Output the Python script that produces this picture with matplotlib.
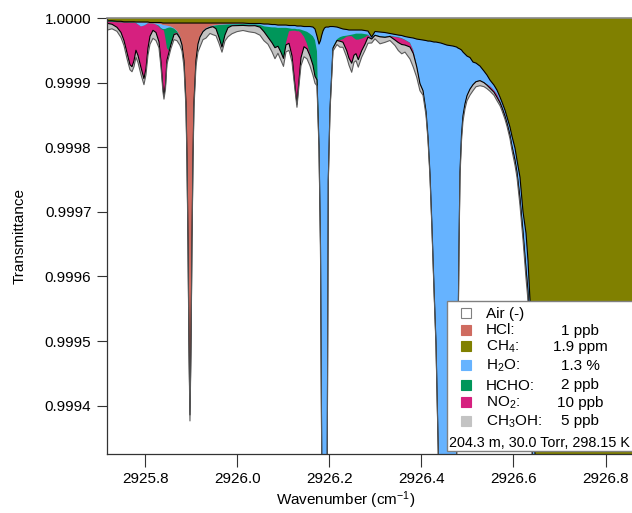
import numpy as np
import matplotlib
matplotlib.use('Agg')
import matplotlib.pyplot as plt
from matplotlib.patches import Rectangle

plt.rcParams['font.family'] = ['Liberation Sans', 'DejaVu Sans']
plt.rcParams['mathtext.default'] = 'regular'

# wavenumber grid (cm-1), denser around the sharp lines
wavenumber = [
    2925.7157, 2925.7272, 2925.7380, 2925.7467, 2925.7533, 2925.7598, 2925.7663, 2925.7707, 2925.7750, 2925.7793,
    2925.7837, 2925.7902, 2925.7967, 2925.8011, 2925.8054, 2925.8098, 2925.8163, 2925.8228, 2925.8293, 2925.8337,
    2925.8380, 2925.8402, 2925.8435, 2925.8467, 2925.8511, 2925.8554, 2925.8620, 2925.8685, 2925.8750, 2925.8793, 2925.8837,
    2925.8880, 2925.8902, 2925.8924, 2925.8946, 2925.8967, 2925.8989, 2925.9011, 2925.9033, 2925.9054,
    2925.9098, 2925.9141, 2925.9185, 2925.9250, 2925.9315, 2925.9402, 2925.9467, 2925.9533, 2925.9598, 2925.9663,
    2925.9728, 2925.9793, 2925.9880, 2925.9989, 2926.0120, 2926.0250, 2926.0380, 2926.0489,
    2926.0576, 2926.0663, 2926.0750, 2926.0815, 2926.0880, 2926.0946, 2926.1000, 2926.1054, 2926.1120, 2926.1185,
    2926.1250, 2926.1293, 2926.1337, 2926.1380, 2926.1446, 2926.1511, 2926.1576, 2926.1641, 2926.1685, 2926.1728,
    2926.1772, 2926.1804, 2926.1830, 2926.1859, 2926.1891, 2926.1924, 2926.1952, 2926.1974, 2926.2011, 2926.2076, 2926.2163,
    2926.2228, 2926.2293, 2926.2374, 2926.2424, 2926.2483, 2926.2533, 2926.2576, 2926.2626, 2926.2700, 2926.2772,
    2926.2837, 2926.2917, 2926.2989, 2926.3098, 2926.3207, 2926.3315, 2926.3424, 2926.3496, 2926.3570, 2926.3641,
    2926.3750, 2926.3822, 2926.3896, 2926.3967,
    2926.4033, 2926.4098, 2926.4141, 2926.4185, 2926.4228, 2926.4272, 2926.4315, 2926.4365, 2926.4424, 2926.4554,
    2926.4685, 2926.4765, 2926.4793, 2926.4815, 2926.4837,
    2926.4870, 2926.4902, 2926.4946, 2926.4989, 2926.5054, 2926.5120, 2926.5185, 2926.5272, 2926.5359, 2926.5424,
    2926.5489, 2926.5576, 2926.5641, 2926.5707, 2926.5750, 2926.5815, 2926.5859, 2926.5924, 2926.5967, 2926.6033,
    2926.6076, 2926.6141, 2926.6207, 2926.6272, 2926.6315, 2926.6359, 2926.6402, 2926.6467, 2926.6576, 2926.7011,
    2926.7880, 2926.8750,
]

# absorption of each gas, in units of 1e-6 (1 - transmittance)
ch4 = [
    4.3, 4.3, 5.1, 5.1, 5.9, 5.9, 5.9, 5.9, 5.9, 6.2, 6.2, 6.2, 6.2, 6.2, 6.2, 7.0, 7.0, 7.0, 7.0, 7.0,
    7.8, 7.8, 7.8, 7.8, 7.8, 7.8, 7.8, 7.8, 7.8, 7.8, 7.8,
    7.8, 7.8, 7.8, 7.8, 7.8, 7.8, 7.8, 7.8, 7.8,
    7.8, 7.8, 7.8, 7.8, 7.8, 7.8, 7.8, 7.8, 7.8, 7.8, 7.8, 7.8, 7.8, 7.8, 7.8, 8.5, 8.5, 8.5,
    9.3, 9.3, 10.1, 10.1, 10.9, 10.9, 10.9, 10.9, 11.6, 11.6, 11.6, 12.4, 12.4, 12.4, 13.2, 13.2, 13.2, 14.0, 17.0, 27.9,
    40.3, 35.0, 27.0, 20.0, 15.5, 14.0, 14.0, 14.0, 13.2, 13.2, 14.0,
    15.5, 17.0, 17.8, 18.6, 18.6, 18.6, 18.6, 18.6, 18.6, 19.4, 20.2, 29.5, 20.9, 21.7, 22.5, 24.0, 25.6, 26.4, 27.1, 28.7,
    30.2, 31.0, 32.6, 33.3,
    34.1, 34.9, 35.7, 35.7, 36.4, 37.2, 37.2, 38.0, 38.8, 41.9, 43.4, 45.0, 46.5, 47.3, 48.0,
    49.6, 52.7, 55.8, 58.9, 61.2, 68.2, 69.8, 74.4, 82.2, 88.4, 96.1, 103.9, 111.6, 122.5, 130.2, 142.6, 153.5, 169.0,
    183.0, 201.5, 220.0, 246.5, 300.0, 333.0, 375.0, 437.0, 561.0, 674.0, 1085.0, 3100.0, 4650.0, 4650.0,
]
hcl = [
    0, 0, 0, 0.2, 0.3, 0.3, 0.5, 0.5, 0.5, 0.5, 0.6, 0.6, 0.8, 0.8, 0.9, 1.1, 1.2, 1.5, 1.9, 2.3,
    3.1, 3.1, 3.6, 4.0, 4.7, 5.4, 7.8, 11.8, 20.2, 31.0, 55.8,
    121, 205, 333, 499, 605, 499, 333, 205, 121,
    55.8, 31.0, 20.2, 11.8, 7.8, 5.0, 3.9, 3.1, 2.5, 2.2, 1.9, 1.6, 1.4, 1.2, 0.9, 0.8, 0.6, 0.6,
    0.5, 0.5, 0.5, 0.5, 0.5, 0.4, 0.4, 0.4, 0.4, 0.4, 0.3, 0.3, 0.3, 0.3, 0.3, 0.3, 0.3, 0.3, 0.3, 0.3,
] + [0.3] * 11 + [0.2] * 24 + [0.1] * 15 + [0.1] * 32
h2o = [
    0, 0, 0, 0, 0, 0, 0, 0, 0, 0.8, 3.1, 6.2, 4.7, 3.1, 0.8, 0, 0, 1.5, 3.1, 6.2,
    6.2, 6.2, 5.4, 3.9, 2.3, 1.5, 0.8, 0.8, 0.5, 0.5, 0,
    0, 0, 0, 0, 0, 0, 0, 0, 0,
    0.5, 0.5, 0.5, 0.5, 0.5, 0.5, 0.5, 0.5, 0.5, 0.5, 0.5, 0.5, 0.8, 0.8, 0.8, 0.8, 0.8, 1.5,
    3.1, 3.9, 3.9, 3.9, 3.9, 3.9, 3.9, 3.9, 3.9, 4.7, 4.7, 4.7, 4.7, 5.4, 6.2, 7.8, 10.9, 14.0, 17.0, 23.3,
    147, 310, 636, 1705, 4650, 1705, 651, 233, 124, 31, 18.6,
    14.0, 10.9, 9.3, 7.8, 7.0, 6.2, 5.4, 5.4, 5.4, 5.4, 5.4, 1.5, 4.7, 6.2, 6.2, 3.1, 3.1, 3.1, 3.9, 4.7,
    7.8, 18.6, 40.3, 66.7,
    77.5, 108.5, 147, 205, 287, 380, 465, 632, 1240, 3100, 1240, 620, 460, 305, 189,
    130, 97.7, 76.0, 60.5, 48.0, 34.1, 27.9, 21.7, 17.0, 14.0, 9.3, 7.8, 6.2, 5.4, 5.4, 6.2, 6.2, 9.3,
    12.4, 14.0, 14.0, 26.4, 24.8, 46.5, 38.8, 62.0, 77.5, 93.0, 93.0, 93.0, 93.0, 93.0,
]
hcho = [
    1.5, 1.5, 1.5, 1.5, 0.8, 0.8, 0.8, 0.8, 0.8, 0.5, 0, 0, 0, 0, 0, 0, 0, 0, 1.5, 1.5,
    1.5, 2.3, 15.5, 31.0, 35.7, 24.8, 7.8, 2.3, 1.5, 0.8, 0.8,
    0.8, 0.8, 0.8, 0.8, 0.8, 0.8, 0.8, 0.8, 0.8,
    0.5, 0.5, 0.5, 0.5, 0.5, 0.8, 0.8, 4.7, 18.6, 34.1, 15.5, 4.7, 1.5, 1.5, 1.5, 1.5, 1.5, 3.1,
    7.8, 15.5, 23.3, 31.0, 27.9, 37.2, 46.5, 23.3, 4.7, 3.1, 3.1, 3.1, 3.1, 4.7, 9.3, 18.6, 31.0, 43.4, 54.3, 43.4,
    9.3, 4.7, 3.1, 3.1, 3.1, 3.1, 3.1, 2.3, 2.3, 1.5, 1.5,
    4.7, 4.7, 1.5, 1.5, 2.3, 6.2, 9.3, 9.3, 7.8, 4.7, 0.8,
    0.5, 0.5, 0.5, 0.5, 0.5, 0.5, 0.5, 0.5, 0.5, 0.5, 0.5, 0, 0,
] + [0] * 15 + [0] * 32
no2 = [
    2.3, 3.9, 7.8, 15.5, 27.9, 46.5, 65.1, 68.2, 58.9, 41.9, 48.0, 63.6, 82.2, 68.2, 38.8, 20.2, 10.9, 12.4, 23.3, 51.2,
    89.9, 100.8, 71.3, 18.6, 2.3, 1.5, 1.5, 1.5, 1.5, 1.5, 1.5,
    0.8, 0.8, 0.8, 0.8, 0.8, 0.8, 0.8, 0.8, 0.8,
    0.5, 0.5, 0.5, 0.5, 0.5, 0.5, 0.5, 0.5, 0.5, 0.5, 0.5, 0.5, 0.5, 0.5, 0.5, 0.5, 0.5, 0.5,
    0.5, 0.5, 0.5, 0.5, 0.5, 0.8, 0.8, 3.1, 18.6, 38.8, 85.3, 113.0, 77.5, 38.8, 15.5, 7.8, 3.1, 1.5, 1.5, 0.8,
    0.5, 0.5, 0.5, 0.5, 0.5, 0.5, 0.5, 0.5, 0.5, 0.5, 0.5,
    1.5, 4.7, 21.7, 34.1, 41.9, 26.4, 21.7, 31.0, 18.6, 10.9, 3.1, 0.8, 0.5, 0.5, 0.5, 0.8, 4.7, 7.8, 9.3, 7.8,
    6.2, 4.7, 2.3, 1.5,
    0.8, 0.8, 0.8, 0.8, 0.5, 0.5, 0.5, 0.5, 0.5, 0.5, 0.8, 1.5, 0.8, 0.8, 0.8,
    0.8, 0.8, 0.8, 0.8, 0.8, 0.8, 0.8, 0.8, 0.8, 1.5, 3.1, 3.1, 4.7, 3.1, 3.1, 3.1, 3.1, 3.1,
    3.1, 4.7, 4.7, 6.2, 6.2, 9.3, 9.3, 12.4, 15.5, 18.6, 18.6, 18.6, 18.6, 18.6,
]
ch3oh = [
    10.9, 7.0, 6.2, 7.8, 7.8, 9.3, 7.8, 7.8, 9.3, 10.9, 10.9, 10.9, 9.3, 9.3, 10.9, 12.4, 12.4, 12.4, 9.3, 7.8,
    6.2, 5.4, 6.2, 6.2, 6.2, 6.2, 7.8, 10.9, 10.9, 9.3, 9.3,
    9.3, 9.3, 9.3, 9.3, 9.3, 9.3, 9.3, 9.3, 9.3,
    9.3, 12.4, 15.5, 12.4, 14.0, 9.3, 12.4, 10.9, 9.3, 7.8, 9.3, 14.0, 12.4, 9.3, 7.8, 9.3, 10.9, 12.4,
    14.0, 10.9, 14.0, 17.0, 10.9, 12.4, 12.4, 10.9, 10.9, 9.3, 6.2, 4.7, 6.2, 12.4, 15.5, 15.5, 15.5, 15.5, 10.9, 9.3,
    6.2, 4.7, 4.7, 4.7, 4.7, 4.7, 4.7, 4.7, 4.7, 4.7, 6.2,
    9.3, 7.8, 10.0, 10.9, 14.0, 10.9, 10.9, 11.6, 10.0, 9.3, 9.3, 6.2, 5.4, 10.9, 7.8, 6.2, 8.5, 12.4, 14.4, 10.9,
    18.6, 21.2, 16.3, 10.9,
    7.0, 6.2, 5.4, 5.4, 4.7, 4.7, 4.7, 3.9, 3.9, 3.9, 4.7, 7.8, 7.8, 7.8, 7.8,
    9.3, 8.5, 7.8, 7.8, 9.3, 9.3, 7.8, 7.8, 6.2, 5.4, 4.7, 4.7, 5.4, 4.7, 4.7, 4.7, 4.7, 5.4,
    6.2, 7.8, 7.8, 10.9, 12.4, 14.0, 14.0, 18.6, 20.2, 23.3, 23.3, 23.3, 23.3, 23.3,
]

# legend contents
legend_names = ['Air (-)', 'HCl:', 'CH$_4$:', 'H$_2$O:', 'HCHO:', 'NO$_2$:', 'CH$_3$OH:']
legend_values = ['', '1 ppb', '1.9 ppm', '1.3 %', '2 ppb', '10 ppb', '5 ppb']
conditions = '204.3 m, 30.0 Torr, 298.15 K'

# stacking order from the top of the plot down
stack = [ch4, hcl, h2o, hcho, no2, ch3oh]
stack_colors = ['#808000', '#CF6B60', '#66B3FF', '#00965A', '#D6207F', '#C3C3C3']
legend_colors = ['white', '#CF6B60', '#808000', '#66B3FF', '#00965A', '#D6207F', '#C3C3C3']

wn = np.array(wavenumber)
for s in stack:
    assert len(s) == len(wn)
levels = 1.0 - np.cumsum(np.array(stack, dtype=float), axis=0) * 1e-6

fig = plt.figure(figsize=(6.32, 5.13), dpi=100)
ax = fig.add_axes([106.7 / 632, 59 / 513, 1 - 106.7 / 632, 436 / 513])

# paint from the lowest layer up so adjacent fills leave no seams
for i in range(len(stack) - 1, -1, -1):
    ax.fill_between(wn, 1.0, levels[i], color=stack_colors[i], lw=0)
ax.plot(wn, levels[0], color='black', lw=0.8)
ax.plot(wn, levels[4], color='black', lw=0.8)
ax.plot(wn, levels[5], color='#5a5a5a', lw=0.8)

ax.set_xlim(2925.7157, 2926.8576)
ax.set_ylim(0.9993251, 1.0)
ax.set_xticks([2925.8, 2926.0, 2926.2, 2926.4, 2926.6, 2926.8])
ax.set_xticklabels(['%.1f' % v for v in ax.get_xticks()])
yt = [0.9994, 0.9995, 0.9996, 0.9997, 0.9998, 0.9999, 1.0]
ax.set_yticks(yt)
ax.set_yticklabels(['%.4f' % v for v in yt])
ax.tick_params(axis='both', direction='out', width=0.8, color='#333333', labelsize=11, pad=4)
ax.tick_params(axis='x', length=9)
ax.tick_params(axis='y', length=7)

ax.spines['right'].set_visible(False)
ax.spines['top'].set_color('#8a8a8a')
ax.spines['top'].set_linewidth(1.2)
for side in ['left', 'bottom']:
    ax.spines[side].set_color('#333333')
    ax.spines[side].set_linewidth(0.9)

ax.set_xlabel('Wavenumber (cm$^{-1}$)', fontsize=11, va='center')
ax.xaxis.set_label_coords((346 - 106.7) / 525.3, (454 - 500) / 436)
ax.set_ylabel('Transmittance', fontsize=11, va='center')
ax.yaxis.set_label_coords((20 - 106.7) / 525.3, 0.5)

# legend box drawn in figure pixels (it runs off the right edge like the original)
ov = fig.add_axes([0, 0, 1, 1])
ov.set_xlim(0, 632)
ov.set_ylim(513, 0)
ov.axis('off')
ov.add_patch(Rectangle((447.3, 300.7), 250, 150.3, fc='white', ec='#808080', lw=1.0))
row_base = [318, 334.5, 351, 370, 389.5, 406.5, 425.5]
for name, val, col, yb in zip(legend_names, legend_values, legend_colors, row_base):
    ec = '#808080' if col == 'white' else col
    ov.add_patch(Rectangle((460.7, yb - 10), 10, 10, fc=col, ec=ec, lw=0.8))
    ov.text(486, yb, name, fontsize=11, va='baseline', ha='left')
    if val:
        ov.text(580, yb, val, fontsize=11, va='baseline', ha='center')
# slightly smaller so the whole line stays inside the picture
ov.text(449.3, 447, conditions, fontsize=10.4, va='baseline', ha='left')

fig.savefig('out.png', dpi=100)
